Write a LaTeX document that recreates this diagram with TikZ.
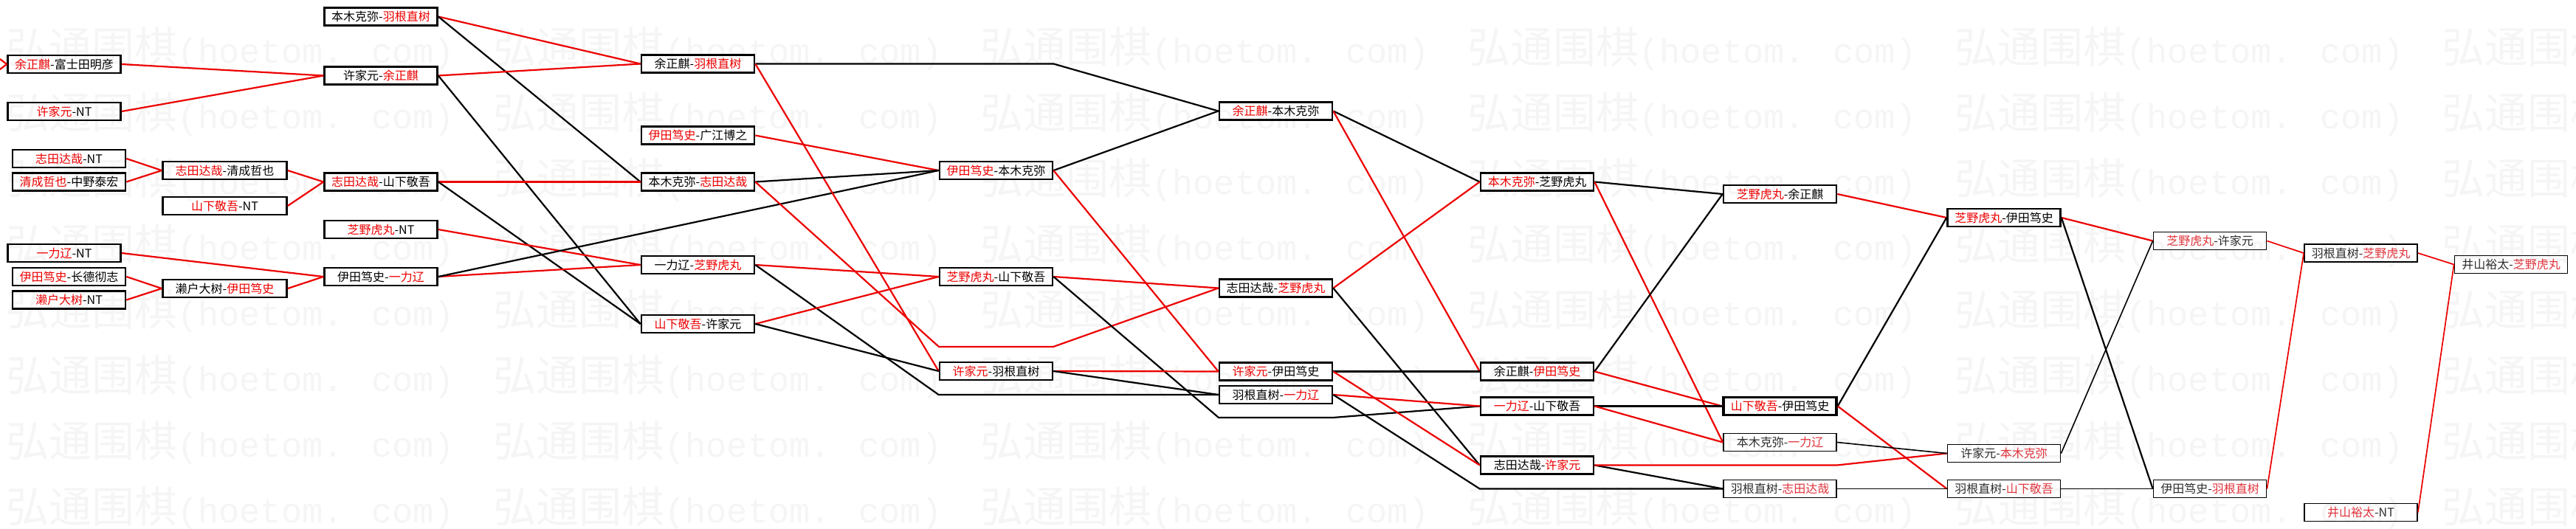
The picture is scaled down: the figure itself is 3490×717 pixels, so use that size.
\documentclass[tikz,border=0pt]{standalone}
\usepackage{fontspec}
\setmainfont{Noto Sans CJK SC}
\newfontfamily\wmlatin{Liberation Mono}
\usepackage{xcolor}
\usepackage{tikz}

\definecolor{winred}{RGB}{236,0,0}
\definecolor{dimred}{RGB}{222,52,60}
\definecolor{dimblack}{RGB}{45,45,45}
\newcommand{\hot}[1]{\textcolor{winred}{#1}}
\newcommand{\dimhot}[1]{\textcolor{dimred}{#1}}
\newcommand{\hoetom}{{\fontsize{58}{58}\selectfont 弘通围棋}{\wmlatin\fontsize{47}{58}\selectfont (hoetom. com)}}

\begin{document}
\begin{tikzpicture}[
    x=1pt, y=-1pt,
    box/.style={rectangle, draw, line width=2.6pt, inner sep=0pt, minimum width=153pt, minimum height=24pt, font=\fontsize{16}{16}\selectfont},
    widebox/.style={box, minimum width=168pt},
    lastbox/.style={box, line width=3.4pt},
    nextbox/.style={box, line width=1.8pt, text=dimblack},
    win/.style={winred, line width=2.2pt},
    lose/.style={black, line width=2.2pt},
    thinwin/.style={winred, line width=1.7pt},
    thinlose/.style={black, line width=1.6pt},
    wmtext/.style={anchor=west, inner sep=0pt, text=black!4}
  ]
    \useasboundingbox (0,0) rectangle (3490,717);
    \begin{scope}
      \clip (0,0) rectangle (3490,717);
      \foreach \wy in {66,155,244,333,422,511,600,689}
        \foreach \wx in {8,668,1328,1988,2648,3308}
          \node[wmtext] (wm-\wx-\wy) at (\wx,\wy) {\hoetom};
    \end{scope}

    \node[box] (a1) at (87,87) {\hot{余正麒}-富士田明彦};
    \node[box] (a2) at (87,151) {\hot{许家元}-NT};
    \node[box] (a3) at (93.5,215) {\hot{志田达哉}-NT};
    \node[box] (a4) at (93.5,246.5) {\hot{清成哲也}-中野泰宏};
    \node[box] (a5) at (87,343) {\hot{一力辽}-NT};
    \node[box] (a6) at (93.5,375) {\hot{伊田笃史}-长德彻志};
    \node[box] (a7) at (93.5,406.5) {\hot{濑户大树}-NT};

    \node[widebox] (b1) at (304.5,231) {\hot{志田达哉}-清成哲也};
    \node[widebox] (b2) at (304.5,279) {\hot{山下敬吾}-NT};
    \node[widebox] (b3) at (304.5,391) {濑户大树-\hot{伊田笃史}};

    \node[box] (c1) at (516,22.5) {本木克弥-\hot{羽根直树}};
    \node[box] (c2) at (516,102.5) {许家元-\hot{余正麒}};
    \node[box] (c3) at (516,246.5) {\hot{志田达哉}-山下敬吾};
    \node[box] (c4) at (516,311) {\hot{芝野虎丸}-NT};
    \node[box] (c5) at (516,375) {伊田笃史-\hot{一力辽}};

    \node[box] (d1) at (945.5,86.5) {余正麒-\hot{羽根直树}};
    \node[box] (d2) at (945.5,183.5) {\hot{伊田笃史}-广江博之};
    \node[box] (d3) at (945.5,246.5) {本木克弥-\hot{志田达哉}};
    \node[box] (d4) at (945.5,359) {一力辽-\hot{芝野虎丸}};
    \node[box] (d5) at (945.5,439) {\hot{山下敬吾}-许家元};

    \node[box] (e1) at (1349.5,231) {\hot{伊田笃史}-本木克弥};
    \node[box] (e2) at (1349.5,375) {\hot{芝野虎丸}-山下敬吾};
    \node[box] (e3) at (1349.5,503) {\hot{许家元}-羽根直树};

    \node[box] (f1) at (1728.5,150.5) {\hot{余正麒}-本木克弥};
    \node[box] (f2) at (1728.5,390.5) {志田达哉-\hot{芝野虎丸}};
    \node[box] (f3) at (1728.5,503.5) {\hot{许家元}-伊田笃史};
    \node[box] (f4) at (1728.5,535) {羽根直树-\hot{一力辽}};

    \node[box] (g1) at (2082.5,246.5) {\hot{本木克弥}-芝野虎丸};
    \node[box] (g2) at (2082.5,503.5) {余正麒-\hot{伊田笃史}};
    \node[box] (g3) at (2082.5,550.5) {\hot{一力辽}-山下敬吾};
    \node[box] (g4) at (2082.5,630.5) {志田达哉-\hot{许家元}};

    \node[box] (h1) at (2411.5,263) {\hot{芝野虎丸}-余正麒};
    \node[lastbox] (h2) at (2411.5,550.5) {\hot{山下敬吾}-伊田笃史};
    \node[nextbox] (h3) at (2411.5,599.5) {本木克弥-\dimhot{一力辽}};
    \node[nextbox] (h4) at (2411.5,662.5) {羽根直树-\dimhot{志田达哉}};

    \node[box] (i1) at (2715,295) {\hot{芝野虎丸}-伊田笃史};
    \node[nextbox] (i2) at (2715,614.5) {许家元-\dimhot{本木克弥}};
    \node[nextbox] (i3) at (2715,662.5) {羽根直树-\dimhot{山下敬吾}};

    \node[nextbox] (j1) at (2994,326.5) {\dimhot{芝野虎丸}-许家元};
    \node[nextbox] (j2) at (2994,662.5) {伊田笃史-\dimhot{羽根直树}};

    \node[nextbox] (k1) at (3198.5,343) {羽根直树-\dimhot{芝野虎丸}};
    \node[nextbox] (k2) at (3198.5,694.5) {\dimhot{井山裕太}-NT};

    \node[nextbox] (l1) at (3402,358.5) {井山裕太-\dimhot{芝野虎丸}};

    \coordinate (in1) at (0,80);
    \coordinate (in2) at (0,94);
    \coordinate (d3a) at (1272,470);
    \coordinate (d3b) at (1427,470);
    \coordinate (e2a) at (1651,566);
    \coordinate (e2b) at (1806,566);

    \draw[win] (in1) -- (a1.west);
    \draw[win] (in2) -- (a1.west);
    \draw[win] (a1.east) -- (c2.west);
    \draw[win] (a2.east) -- (c2.west);
    \draw[win] (a3.east) -- (b1.west);
    \draw[win] (a4.east) -- (b1.west);
    \draw[win] (b1.east) -- (c3.west);
    \draw[win] (b2.east) -- (c3.west);
    \draw[win] (a5.east) -- (c5.west);
    \draw[win] (a6.east) -- (b3.west);
    \draw[win] (a7.east) -- (b3.west);
    \draw[win] (b3.east) -- (c5.west);

    \draw[win] (c1.east) -- (d1.west);
    \draw[lose] (c1.east) -- (d3.west);
    \draw[win] (c2.east) -- (d1.west);
    \draw[lose] (c2.east) -- (d5.west);
    \draw[win] (c3.east) -- (d3.west);
    \draw[lose] (c3.east) -- (d5.west);
    \draw[win] (c4.east) -- (d4.west);
    \draw[win] (c5.east) -- (d4.west);
    \draw[lose] (c5.east) -- (e1.west);

    \draw[lose] (d1.east) -- (e1.east |- d1.east) -- (f1.west);
    \draw[win] (d1.east) -- (e3.west);
    \draw[win] (d2.east) -- (e1.west);
    \draw[lose] (d3.east) -- (e1.west);
    \draw[win] (d3.east) -- (d3a) -- (d3b) -- (f2.west);
    \draw[win] (d4.east) -- (e2.west);
    \draw[lose] (d4.east) -- (e3.west |- f4.west) -- (f4.west);
    \draw[win] (d5.east) -- (e2.west);
    \draw[lose] (d5.east) -- (e3.west);

    \draw[lose] (e1.east) -- (f1.west);
    \draw[win] (e1.east) -- (f3.west);
    \draw[win] (e2.east) -- (f2.west);
    \draw[lose] (e2.east) -- (e2a) -- (e2b) -- (g3.west);
    \draw[win] (e3.east) -- (f3.west);
    \draw[lose] (e3.east) -- (f4.west);

    \draw[lose] (f1.east) -- (g1.west);
    \draw[win] (f1.east) -- (g2.west);
    \draw[win] (f2.east) -- (g1.west);
    \draw[lose] (f2.east) -- (g4.west);
    \draw[lose] (f3.east) -- (g2.west);
    \draw[win] (f3.east) -- (g4.west);
    \draw[win] (f4.east) -- (g3.west);
    \draw[lose] (f4.east) -- (g4.west |- h4.west) -- (h4.west);

    \draw[lose] (g1.east) -- (h1.west);
    \draw[win] (g1.east) -- (h3.west);
    \draw[lose] (g2.east) -- (h1.west);
    \draw[win] (g2.east) -- (h2.west);
    \draw[lose] (g3.east) -- (h2.west);
    \draw[win] (g3.east) -- (h3.west);
    \draw[lose] (g4.east) -- (h4.west);
    \draw[win] (g4.east) -- (h4.east |- g4.east) -- (i2.west);

    \draw[win] (h1.east) -- (i1.west);
    \draw[lose] (h2.east) -- (i1.west);
    \draw[win] (h2.east) -- (i3.west);
    \draw[thinlose] (h3.east) -- (i2.west);
    \draw[thinlose] (h4.east) -- (i3.west);

    \draw[win] (i1.east) -- (j1.west);
    \draw[lose] (i1.east) -- (j2.west);
    \draw[thinlose] (i2.east) -- (j1.west);
    \draw[thinlose] (i3.east) -- (j2.west);

    \draw[thinwin] (j1.east) -- (k1.west);
    \draw[thinwin] (j2.east) -- (k1.west);
    \draw[thinwin] (k1.east) -- (l1.west);
    \draw[thinwin] (k2.east) -- (l1.west);
  \end{tikzpicture}
\end{document}
